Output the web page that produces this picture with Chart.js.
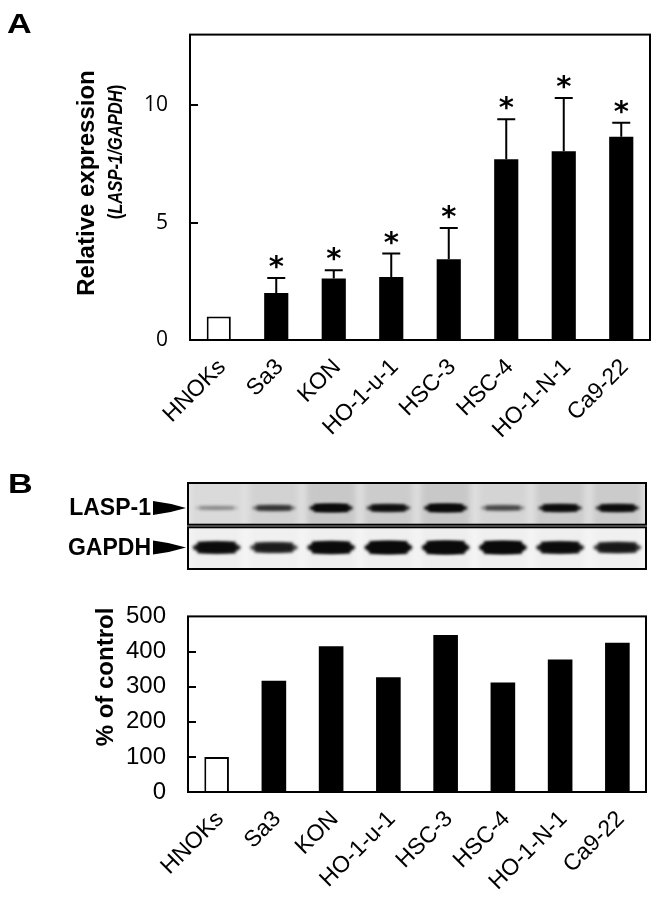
<!DOCTYPE html>
<html>
<head>
<meta charset="utf-8">
<script src="https://cdn.jsdelivr.net/npm/chart.js@4.4.1/dist/chart.umd.min.js"></script>
<style>
  body{margin:0;background:#fff;width:658px;height:897px;position:relative;overflow:hidden}
  .box{position:absolute;left:0;width:658px}
</style>
</head>
<body>
<div class="box" style="top:0;height:460px"><canvas id="chartA"></canvas></div>
<div class="box" style="top:455px;height:125px"><canvas id="blot"></canvas></div>
<div class="box" style="top:580px;height:317px"><canvas id="chartB"></canvas></div>

<script>
/* ===============================
   DATA
================================ */
const cellLines = ["HNOKs","Sa3","KON","HO-1-u-1","HSC-3","HSC-4","HO-1-N-1","Ca9-22"];

// panel A: qPCR, mean and upper SD
const relExpression   = [1.0, 2.0, 2.62, 2.68, 3.44, 7.69, 8.03, 8.65];
const relExpressionSD = [0, 0.64, 0.35, 1.0, 1.33, 1.71, 2.27, 0.6];
const significant     = [false, true, true, true, true, true, true, true];
const yTicksA = [0, 5, 10];
const yMaxA = 13;

// panel B: western blot band strength (0..1) and densitometry
const lasp1Band = [0.1, 0.45, 0.95, 0.75, 0.95, 0.35, 0.8, 0.8];
const gapdhBand = [0.8, 0.6, 0.85, 0.95, 1.0, 0.95, 0.8, 0.65];
const percentOfControl = [100, 317, 415, 327, 447, 312, 377, 425];
const yTicksB = [0, 100, 200, 300, 400, 500];

Chart.defaults.font.family = '"Liberation Sans", Arial, sans-serif';
Chart.defaults.color = "#000";
Chart.defaults.animation = false;


/* FRAME + INWARD TICKS */
const framePlugin = {
  id:"frame",
  afterDatasetsDraw(chart, args, opts){
    const {ctx, chartArea:a, scales:{y}} = chart;
    ctx.save();
    ctx.strokeStyle = "#000";
    ctx.lineWidth = 2;
    ctx.strokeRect(a.left, a.top, a.right - a.left, a.bottom - a.top);
    (opts.ticks || []).forEach(v => {
      if (v <= y.min || v >= y.max) return;
      const py = Math.round(y.getPixelForValue(v));
      ctx.beginPath();
      ctx.moveTo(a.left, py);
      ctx.lineTo(a.left + 8, py);
      ctx.stroke();
    });
    ctx.restore();
  }
};

/* ROTATED CATEGORY LABELS */
const xLabelPlugin = {
  id:"xlabels",
  afterDraw(chart){
    const {ctx, chartArea:a, scales:{x}} = chart;
    ctx.save();
    ctx.font = '23px "Liberation Sans"';
    ctx.fillStyle = "#000";
    ctx.textAlign = "right";
    ctx.textBaseline = "alphabetic";
    chart.data.labels.forEach((lab, i) => {
      ctx.save();
      ctx.translate(x.getPixelForValue(i) + 8, a.bottom + 28);
      ctx.rotate(-Math.PI / 4);
      ctx.fillText(lab, 0, 0);
      ctx.restore();
    });
    ctx.restore();
  }
};

/* FREE TEXT: panel letter + axis title */
const textPlugin = {
  id:"texts",
  afterDraw(chart, args, opts){
    const ctx = chart.ctx;
    ctx.save();
    ctx.fillStyle = "#000";
    (opts.items || []).forEach(it => {
      ctx.save();
      ctx.translate(it.x, it.y);
      if (it.rotate) ctx.rotate(it.rotate);
      if (it.sx) ctx.scale(it.sx, 1);
      ctx.textBaseline = it.baseline || "middle";
      const parts = it.parts || [{text:it.text, font:it.font}];
      let total = 0;
      parts.forEach(p => { ctx.font = p.font; total += ctx.measureText(p.text).width; });
      let x = it.align === "left" ? 0 : -total / 2;
      parts.forEach(p => {
        ctx.font = p.font;
        ctx.textAlign = "left";
        ctx.fillText(p.text, x, 0);
        x += ctx.measureText(p.text).width;
      });
      ctx.restore();
    });
    ctx.restore();
  }
};

/* ERROR BARS + ASTERISKS */
const errorPlugin = {
  id:"errors",
  afterDatasetsDraw(chart){
    const {ctx, scales:{y}} = chart;
    const meta = chart.getDatasetMeta(0);
    ctx.save();
    ctx.strokeStyle = "#000";
    ctx.fillStyle = "#000";
    ctx.lineWidth = 2;
    ctx.font = 'bold 29px "DejaVu Sans"';
    const m = ctx.measureText("*");
    const mid = (m.actualBoundingBoxAscent - m.actualBoundingBoxDescent) / 2;
    meta.data.forEach((bar, i) => {
      const sd = relExpressionSD[i];
      const top = y.getPixelForValue(relExpression[i] + sd);
      if (sd > 0) {
        ctx.beginPath();
        ctx.moveTo(bar.x, bar.y);
        ctx.lineTo(bar.x, top);
        ctx.moveTo(bar.x - 9, top);
        ctx.lineTo(bar.x + 9, top);
        ctx.stroke();
      }
      if (significant[i]) {
        ctx.textAlign = "center";
        ctx.textBaseline = "alphabetic";
        ctx.fillText("*", bar.x, top - 16 + mid);
      }
    });
    ctx.restore();
  }
};

/* BLOT LANES */
const blotPlugin = {
  id:"blot",
  beforeDatasetsDraw(chart){
    const {ctx, chartArea:a, scales:{x, y}} = chart;
    const rows = [
      {name:"LASP-1", bands:lasp1Band, top:2, bottom:1.03, center:1.42, h:8,  w:44, bg:"#e2e2e2", smear:0.09},
      {name:"GAPDH",  bands:gapdhBand, top:0.97, bottom:0, center:0.5, h:13, w:48, bg:"#f5f5f5", smear:0.02}
    ];
    ctx.save();
    rows.forEach(r => {
      const t = y.getPixelForValue(r.top), b = y.getPixelForValue(r.bottom);
      const cy = y.getPixelForValue(r.center);
      ctx.save();
      ctx.beginPath();
      ctx.rect(a.left, t, a.right - a.left, b - t);
      ctx.clip();
      ctx.fillStyle = r.bg;
      ctx.fillRect(a.left, t, a.right - a.left, b - t);
      // lane smear
      ctx.filter = "blur(3px)";
      r.bands.forEach((v, i) => {
        const cx = x.getPixelForValue(i);
        ctx.fillStyle = `rgba(0,0,0,${r.smear * (0.3 + v)})`;
        ctx.fillRect(cx - 25, t - 4, 50, b - t + 8);
      });
      // bands
      ctx.filter = "blur(1.4px)";
      r.bands.forEach((v, i) => {
        const cx = x.getPixelForValue(i);
        const h = r.h * (0.45 + 0.55 * v);
        ctx.fillStyle = `rgba(10,10,10,${Math.min(1, 0.12 + v)})`;
        ctx.beginPath();
        ctx.ellipse(cx, cy, r.w / 2, h / 2, 0, 0, Math.PI * 2);
        ctx.fill();
        ctx.fillRect(cx - r.w / 2 + 5, cy - h / 2, r.w - 10, h);
      });
      ctx.filter = "none";
      ctx.restore();
      // frame
      ctx.strokeStyle = "#000";
      ctx.lineWidth = 2;
      ctx.strokeRect(a.left, t, a.right - a.left, b - t);
      // label + arrowhead
      ctx.fillStyle = "#000";
      ctx.font = 'bold 23px "Liberation Sans"';
      ctx.textAlign = "right";
      ctx.textBaseline = "middle";
      ctx.fillText(r.name, 151, cy + 1);
      ctx.beginPath();
      ctx.moveTo(153, cy - 7);
      ctx.quadraticCurveTo(170, cy - 5, 186, cy);
      ctx.quadraticCurveTo(170, cy + 5, 153, cy + 7);
      ctx.closePath();
      ctx.fill();
    });
    ctx.font = 'bold 28px "Liberation Sans"';
    ctx.textAlign = "left";
    ctx.textBaseline = "alphabetic";
    ctx.translate(8, 38);
    ctx.scale(1.22, 1);
    ctx.fillText("B", 0, 0);
    ctx.restore();
  }
};


/* SHARED AXES */
function xAxis(h){
  return {
    grid:{display:false},
    border:{display:false},
    ticks:{display:false},
    afterFit:s => { s.height = h; }
  };
}

function yAxis(max, ticks, w, font){
  return {
    min:0,
    max:max,
    grid:{display:false, drawTicks:false},
    border:{display:false},
    afterBuildTicks:s => { s.ticks = ticks.map(v => ({value:v})); },
    ticks:{font:font, padding:22},
    afterFit:s => { s.width = w; }
  };
}


/* CHART A */
new Chart(document.getElementById("chartA"),{
  type:"bar",
  data:{
    labels:cellLines,
    datasets:[{
      data:relExpression,
      backgroundColor:relExpression.map((v,i) => i === 0 ? "#fff" : "#000"),
      borderColor:"#000",
      borderWidth:relExpression.map((v,i) => i === 0 ? 2 : 0),
      barPercentage:0.42,
      categoryPercentage:1
    }]
  },
  options:{
    responsive:true,
    maintainAspectRatio:false,
    layout:{padding:{top:30, right:8}},
    plugins:{
      legend:{display:false},
      tooltip:{enabled:false},
      frame:{ticks:yTicksA},
      texts:{items:[
        {text:"A", font:'bold 28px "Liberation Sans"', x:7, y:33, sx:1.22, align:"left", baseline:"alphabetic"},
        {text:"Relative expression", font:'bold 24px "Liberation Sans"', x:87, y:183, rotate:-Math.PI/2},
        {x:116, y:152, rotate:-Math.PI/2, sx:0.83, parts:[
          {text:"(", font:'bold 20px "Liberation Sans"'},
          {text:"LASP-1/GAPDH", font:'italic bold 20px "Liberation Sans"'},
          {text:")", font:'bold 20px "Liberation Sans"'}
        ]}
      ]}
    },
    scales:{
      x:xAxis(120),
      y:yAxis(yMaxA, yTicksA, 190, {size:21, family:'"Open Sans"'})
    }
  },
  plugins:[framePlugin, errorPlugin, xLabelPlugin, textPlugin]
});


/* BLOT */
new Chart(document.getElementById("blot"),{
  type:"bar",
  data:{
    labels:cellLines,
    datasets:[{data:cellLines.map(() => null)}]
  },
  options:{
    responsive:true,
    maintainAspectRatio:false,
    layout:{padding:{left:188, right:12, top:28, bottom:11}},
    plugins:{legend:{display:false}, tooltip:{enabled:false}},
    scales:{
      x:{display:false},
      y:{display:false, min:0, max:2}
    }
  },
  plugins:[blotPlugin]
});


/* CHART B */
new Chart(document.getElementById("chartB"),{
  type:"bar",
  data:{
    labels:cellLines,
    datasets:[{
      data:percentOfControl,
      backgroundColor:percentOfControl.map((v,i) => i === 0 ? "#fff" : "#000"),
      borderColor:"#000",
      borderWidth:percentOfControl.map((v,i) => i === 0 ? 2 : 0),
      barPercentage:0.43,
      categoryPercentage:1
    }]
  },
  options:{
    responsive:true,
    maintainAspectRatio:false,
    layout:{padding:{top:13, right:12}},
    plugins:{
      legend:{display:false},
      tooltip:{enabled:false},
      frame:{ticks:yTicksB},
      texts:{items:[
        {text:"% of control", font:'bold 24px "Liberation Sans"', x:106, y:97, rotate:-Math.PI/2}
      ]}
    },
    scales:{
      x:xAxis(105),
      y:yAxis(500, yTicksB, 188, {size:24})
    }
  },
  plugins:[framePlugin, xLabelPlugin, textPlugin]
});
</script>
</body>
</html>
